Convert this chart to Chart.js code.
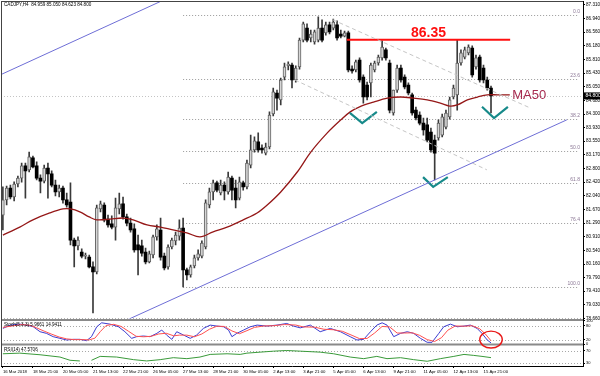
<!DOCTYPE html>
<html><head><meta charset="utf-8">
<script src="https://cdn.jsdelivr.net/npm/chart.js@4.4.1/dist/chart.umd.min.js"></script>
<style>html,body{margin:0;padding:0;background:#fff;overflow:hidden}#wrap{width:600px;height:376px;position:relative}</style>
</head><body><div id="wrap"><canvas id="c" width="600" height="376"></canvas></div>
<script>
const FONT = 'Liberation Sans, Arial, sans-serif';
const symbolTitle = 'CADJPY,H4  84.959 85.050 84.623 84.800';
const stochTitle = 'Stoch(5,3,3) 5.9661 14.9411';
const rsiTitle = 'RSI(14) 47.5706';

const xTickBars = [0,8,16,24,32,40,48,56,64,72,80,88,96,104,112,120,128];
const xTickLabels = ["16 Mar 2018","18 Mar 21:00","20 Mar 05:00","21 Mar 13:00","22 Mar 21:00","26 Mar 05:00","27 Mar 13:00","28 Mar 21:00","30 Mar 05:00","2 Apr 13:00","3 Apr 21:00","5 Apr 05:00","6 Apr 13:00","9 Apr 21:00","11 Apr 05:00","12 Apr 13:00","15 Apr 21:00"];
const priceTicks = [87.310,86.940,86.560,86.180,85.810,85.430,85.050,84.680,84.300,83.930,83.550,83.170,82.800,82.420,82.040,81.670,81.290,80.910,80.540,80.160,79.790,79.410,79.030,78.660];
const stochTicks = [100,80,20,0];
const stochLevels = [80,20];
const rsiTicks = [70,30];
const rsiLevels = [70,30];

const opens = [81.51,81.93,82.26,82.01,82.37,82.53,82.87,82.76,83.09,82.87,
82.53,82.45,82.81,82.65,82.34,82.15,82.26,81.93,81.87,80.82,
80.66,80.49,80.38,80.35,80.08,79.94,81.68,81.79,81.40,81.27,
81.18,81.68,81.82,81.46,81.29,81.13,80.69,80.66,80.49,80.22,
80.41,80.91,81.10,80.38,80.08,80.63,80.80,80.93,81.15,80.00,
79.86,80.11,80.33,80.38,80.63,81.79,82.15,82.40,82.12,82.34,
82.15,82.53,82.26,81.98,82.40,82.29,82.89,83.31,83.53,83.36,
83.22,83.39,84.30,84.88,84.69,85.32,85.63,85.65,85.24,85.60,
86.34,86.67,86.40,86.29,86.34,86.67,86.54,86.76,86.67,86.76,
86.51,86.45,86.54,85.54,85.52,85.79,85.32,85.10,85.16,85.52,
85.71,85.85,86.07,85.71,84.33,84.96,85.57,85.32,85.10,84.83,
84.41,84.27,84.05,84.00,83.80,83.58,83.64,83.72,83.94,84.22,
84.77,84.83,85.71,85.87,85.99,86.12,85.60,85.87,85.57,85.24,
85.02];
const highs = [82.29,82.31,82.34,82.43,82.59,82.95,82.95,83.25,83.14,82.98,
82.62,82.89,82.95,82.73,82.48,82.34,82.31,82.12,82.40,80.88,
80.91,80.58,80.46,80.41,80.22,81.79,81.90,81.85,81.51,81.49,
81.98,82.12,82.01,81.54,81.43,81.27,80.96,80.82,80.60,80.52,
80.96,81.24,81.43,80.46,80.69,80.88,81.04,81.38,81.43,80.05,
80.13,80.41,80.55,80.80,81.93,82.26,82.48,82.45,82.48,82.43,
82.70,82.59,82.48,82.56,82.45,83.03,83.72,83.67,83.78,83.45,
83.50,84.36,85.02,84.96,85.29,85.71,85.74,85.71,85.63,86.40,
86.84,86.79,86.62,86.62,86.98,86.90,86.84,86.84,86.92,86.87,
86.62,86.59,86.59,85.63,85.79,85.85,85.38,85.18,85.71,85.76,
85.93,86.32,86.12,85.79,84.96,85.65,85.65,85.38,85.16,84.88,
84.49,84.36,84.19,84.19,83.91,83.72,84.14,84.30,84.41,84.77,
85.10,86.34,86.07,86.15,86.21,86.18,85.93,85.93,85.65,85.32,
85.07];
const lows = [81.10,81.79,81.96,81.90,82.29,82.42,81.98,82.70,82.81,82.48,
82.12,82.40,81.98,82.29,82.04,82.01,81.84,81.73,80.69,80.08,
80.55,80.33,80.30,80.05,78.81,79.89,81.60,81.32,81.18,81.13,
80.82,81.54,81.40,81.21,81.04,80.49,79.86,80.38,80.16,80.19,
80.33,80.82,80.27,80.00,80.02,80.58,80.69,80.82,79.53,79.72,
79.80,80.05,80.27,80.33,80.58,81.71,81.93,82.15,82.07,81.93,
82.09,81.93,81.71,81.93,82.20,82.23,82.81,83.25,83.25,83.22,
83.17,83.34,84.25,84.41,84.55,85.24,85.52,85.02,85.18,85.54,
86.29,86.29,86.29,86.23,86.29,86.29,86.48,86.51,86.62,86.34,
86.40,86.43,85.46,85.43,85.46,85.18,84.60,84.69,84.77,85.46,
85.65,85.79,85.79,84.33,84.27,84.90,85.18,84.99,84.83,84.27,
84.14,84.00,83.72,83.53,83.25,82.48,83.58,83.67,83.89,84.16,
84.72,84.41,85.65,85.82,85.93,85.32,85.54,85.18,85.16,84.96,
84.33];
const closes = [81.93,82.26,82.01,82.37,82.53,82.87,82.73,83.12,82.84,82.53,
82.45,82.81,82.65,82.34,82.15,82.26,81.93,81.79,80.82,80.66,
80.82,80.38,80.41,80.08,79.94,81.71,81.82,81.38,81.24,81.18,
81.71,81.82,81.46,81.29,81.10,80.55,80.55,80.46,80.22,80.44,
80.91,81.13,80.35,80.05,80.63,80.82,80.96,81.15,80.00,79.86,
80.08,80.33,80.44,80.74,81.85,82.15,82.40,82.20,82.34,82.18,
82.56,82.20,81.93,82.43,82.29,82.95,83.31,83.56,83.31,83.31,
83.39,84.27,84.91,84.74,85.24,85.60,85.68,85.24,85.57,86.34,
86.79,86.34,86.51,86.57,86.67,86.34,86.76,86.57,86.84,86.40,
86.45,86.54,85.52,85.49,85.74,85.24,84.77,84.77,85.65,85.71,
85.87,86.15,85.85,84.41,84.96,85.57,85.24,85.05,84.88,84.33,
84.19,84.05,83.86,83.58,83.31,83.22,84.05,84.22,84.33,84.69,
85.02,85.71,85.99,86.07,86.15,85.38,85.85,85.24,85.24,85.02,
84.80];

const maBars = [0,4.5,8,12.5,16,18,20.5,23,25,28.5,32,34.7,38.4,42,45.3,49,52.5,56,59.7,64,67.7,70.4,74,78.4,82,86.4,90,92.5,95,98.7,102.4,106,109.3,113,116.5,119,121,123.7,126.4,129,131.7,135];
const maValues = [80.96,81.18,81.38,81.57,81.68,81.68,81.60,81.46,81.38,81.40,81.43,81.38,81.24,81.18,81.10,81.02,80.91,81.05,81.18,81.38,81.57,81.79,82.15,82.70,83.25,83.78,84.14,84.36,84.50,84.63,84.74,84.77,84.74,84.69,84.60,84.52,84.55,84.69,84.77,84.83,84.83,84.83];

const stochMainBars = [0,1.9,4.5,6.3,8.1,9.9,11.6,13.4,15.2,17,18.8,20.5,22.3,23.6,25,26.3,28.5,30.8,32.5,34.3,35.6,37.4,39.2,41,42.3,43.6,45,46.3,48.1,49.9,51.6,53.4,55.2,57,58.8,60.1,61,62.3,64.1,65.9,67.7,70.3,73,75.6,77.4,79.2,81.9,84.5,87.2,89.9,92.5,94.3,96.1,97.9,99.6,101,102.3,104.1,105.9,107.7,109.4,111.2,113,114.3,116.1,117.4,119.2,121,122.8,124.5,126.3,127.6,129,130];
const stochMainValues = [67.6,81.7,85.9,81.7,74.6,53.5,46.5,32.4,25.4,18.3,21.1,21.1,15.5,32.4,74.6,91.5,85.9,74.6,53.5,25.4,32.4,35.2,32.4,46.5,60.6,39.4,21.1,53.5,39.4,25.4,39.4,67.6,81.7,77.5,74.6,60.6,32.4,46.5,60.6,74.6,81.7,77.5,81.7,88.7,77.5,70,81.7,53.5,67.6,53.5,32.4,18.3,21.1,53.5,81.7,91.5,81.7,32.4,46.5,53.5,46.5,25.4,8.5,8.5,46.5,74.6,85.9,74.6,77.5,81.7,67.6,46.5,18.3,5.97];
const stochSignalBars = [0,2.5,5,7.2,9,11,13,15,17,19,21,23,24.5,26,27.5,29.5,31.5,33.5,35.5,37.5,39.5,41.5,43.5,45.5,47,49,51,53,55,57,59,61,63,65,67,69.5,72,75,78,80,83,85.5,88,90.5,93,95,97,99,101,103,105,107,109,111,113,115,116.8,118.5,120.5,123,125,127,128.5,130];
const stochSignalValues = [72,78,84,81,70,56,43,31,23,20,20,19,26,55,80,85,76,55,34,32,34,44,47,36,39,39,32,44,64,77,76,57,45,58,72,78,79,84,82,74,73,64,62,55,38,24,25,48,76,74,48,48,49,38,20,12,28,60,78,77,79,66,44,14.94];

const rsiBars = [0,4.5,9.9,15.2,17.9,20.5,22,23.6,25.9,30.3,34.8,38.3,41.9,45.4,49,52.5,55.2,59.7,63.2,65,68.5,72.1,75.6,79.2,84.5,88.1,92.5,96.1,99.6,102.3,105.9,109.4,113,116.5,120.1,122.8,125.4,127.6,130];
const rsiValues = [59.7,61.7,56.6,49.4,39.2,37.1,null,39.2,51.5,49.4,41.2,37.1,41.2,47.4,44.3,49.4,57.7,59.7,57.7,61.7,64.8,67.9,70,67.9,64.8,59.7,49.4,44.3,51.5,44.3,47.4,41.2,36.1,44.3,51.5,57.7,54.6,51.5,47.57];

// annotations (bar index, price)
const fibHigh = 87.03, fibLow = 79.527, fibStartBar = 48;
const fibRatios = [0, 23.6, 38.2, 50, 61.8, 76.4, 100];
const fibNames = ['0.0','23.6','38.2','50.0','61.8','76.4','100.0'];
const upperChannelBars = [-0.5, 43.5], upperChannelPrices = [85.39, 87.48];
const lowerChannelBars = [32.5, 150.2], lowerChannelPrices = [78.59, 84.14];
const grayUpperBars = [87.9, 140.4], grayUpperPrices = [86.90, 84.47];
const grayLowerBars = [77.8, 128.9], grayLowerPrices = [85.24, 82.76];
const resistancePrice = 86.35, resistanceBars = [91.6, 135.1];
const check1Bars = [92.4, 95.7, 99.6], check1Prices = [84.33, 84.05, 84.36];
const check2Bars = [127.6, 130.8, 134.5], check2Prices = [84.50, 84.19, 84.50];
const check3Bars = [111.9, 114.6, 118.5], check3Prices = [82.56, 82.29, 82.56];
const ellipseBar = 130, ellipseValue = 20, ellipseHalfBars = 3, ellipseHalfUnits = 36;

const pts = (xs, ys) => xs.map((b, i) => ({x: b, y: ys[i]}));
const idx = closes.map((_, i) => i);
const isBull = i => closes[i] >= opens[i];

function lineDs(data, color, width, axis, extra) {
  return Object.assign({type: 'line', data, borderColor: color, borderWidth: width, pointRadius: 0,
    fill: false, xAxisID: 'x', yAxisID: axis || 'y', order: 1}, extra || {});
}

const overlay = {
  id: 'overlay',
  beforeDraw(chart) {
    const c = chart.ctx; c.save(); c.fillStyle = '#fff'; c.fillRect(0, 0, chart.width, chart.height); c.restore();
  },
  beforeDatasetsDraw(chart) {
    const {ctx, scales: {x, y, yS, yR}} = chart;
    const hl = (x0, x1, py, col) => { ctx.strokeStyle = col; ctx.beginPath(); ctx.moveTo(x0, py); ctx.lineTo(x1, py); ctx.stroke(); };
    ctx.save();
    ctx.lineWidth = 1; ctx.setLineDash([1, 2]);
    const fx0 = x.getPixelForValue(fibStartBar), fx1 = x.right - 4;
    fibRatios.forEach(r => {
      const p = fibHigh - (fibHigh - fibLow) * r / 100;
      hl(fx0, fx1, Math.round(y.getPixelForValue(p)) + 0.5, '#9a9a9a');
    });
    hl(x.left, x.right, Math.round(y.getPixelForValue(closes[closes.length - 1])) + 0.5, '#c4c4c4');
    hl(x.left, x.right, Math.round(y.bottom) - 0.5, '#b0b0b0');
    stochLevels.forEach(v => hl(x.left, x.right, Math.round(yS.getPixelForValue(v)) + 0.5, '#a8a8a8'));
    rsiLevels.forEach(v => hl(x.left, x.right, Math.round(yR.getPixelForValue(v)) + 0.5, '#a8a8a8'));
    ctx.restore();
  },
  afterDraw(chart) {
    const {ctx, chartArea: a, scales: {x, y, yS, yR}} = chart;
    ctx.save();
    // panel separators
    ctx.fillStyle = '#8a8a8a';
    ctx.fillRect(a.left, yS.top + 0.5, a.right - a.left, 2);
    ctx.fillRect(a.left, yR.top - 1, a.right - a.left, 2);
    // frame
    ctx.strokeStyle = '#444'; ctx.lineWidth = 1;
    ctx.beginPath(); ctx.moveTo(a.left + 0.5, a.top); ctx.lineTo(a.left + 0.5, a.bottom);
    ctx.moveTo(a.left, a.top + 0.5); ctx.lineTo(a.right, a.top + 0.5); ctx.stroke();
    // fib labels
    ctx.font = '5px ' + FONT; ctx.fillStyle = '#8c7896'; ctx.textAlign = 'right'; ctx.textBaseline = 'bottom';
    fibRatios.forEach((r, k) => {
      const p = fibHigh - (fibHigh - fibLow) * r / 100;
      ctx.fillText(fibNames[k], x.right - 3, Math.round(y.getPixelForValue(p)) - 0.5);
    });
    // titles
    ctx.fillStyle = '#000'; ctx.textAlign = 'left'; ctx.textBaseline = 'middle';
    ctx.font = '4.6px ' + FONT;
    ctx.fillText(symbolTitle, a.left + 3, a.top + 4);
    ctx.fillText(stochTitle, a.left + 3, yS.top + 6.5);
    ctx.fillText(rsiTitle, a.left + 3, yR.top + 5);
    // resistance label
    ctx.font = 'bold 14px ' + FONT; ctx.fillStyle = '#ff1010'; ctx.textAlign = 'center'; ctx.textBaseline = 'alphabetic';
    const rx = (x.getPixelForValue(resistanceBars[0]) + x.getPixelForValue(resistanceBars[1])) / 2;
    ctx.fillText(String(resistancePrice), rx, y.getPixelForValue(resistancePrice) - 2.5);
    // MA50 label
    ctx.font = '13px ' + FONT; ctx.fillStyle = '#a62a4f'; ctx.textAlign = 'left'; ctx.textBaseline = 'middle';
    ctx.fillText('MA50', x.getPixelForValue(resistanceBars[1]) + 2, y.getPixelForValue(maValues[maValues.length - 1]) + 0.5);
    // current price box
    const cp = closes[closes.length - 1], cy = y.getPixelForValue(cp);
    ctx.fillStyle = '#000'; ctx.fillRect(a.right + 1, cy - 3.5, 17, 7);
    ctx.fillStyle = '#fff'; ctx.font = '5px ' + FONT; ctx.textAlign = 'left';
    ctx.fillText(cp.toFixed(3), a.right + 2.5, cy);
    // red ellipse on stochastic
    const ex = x.getPixelForValue(ellipseBar), ey = yS.getPixelForValue(ellipseValue);
    const erx = x.getPixelForValue(ellipseBar + ellipseHalfBars) - ex;
    const ery = ey - yS.getPixelForValue(ellipseValue + ellipseHalfUnits);
    ctx.strokeStyle = '#e81818'; ctx.lineWidth = 1.4;
    ctx.beginPath(); ctx.ellipse(ex, ey, erx, ery, 0, 0, Math.PI * 2); ctx.stroke();
    ctx.restore();
  }
};

const yAxisCommon = (extra) => Object.assign({
  type: 'linear', position: 'right', stack: 'panes', beginAtZero: false,
  grid: {drawOnChartArea: false, drawTicks: true, tickLength: 2, color: '#000'},
  border: {display: true, color: '#000'},
  ticks: {autoSkip: false, padding: 1, color: '#111', font: {size: 5, family: FONT}},
  afterFit: ax => { ax.width = 17; ax.paddingTop = 0; ax.paddingBottom = 0; }
}, extra);

new Chart(document.getElementById('c'), {
  type: 'bar',
  data: {datasets: [
    {type: 'bar', data: idx.map(i => ({x: i, y: [lows[i], highs[i]]})), xAxisID: 'x', yAxisID: 'y',
      barThickness: 1, backgroundColor: '#3a3a3a', borderWidth: 0, grouped: false, order: 20},
    {type: 'bar', data: idx.map(i => ({x: i, y: [opens[i], closes[i]]})), xAxisID: 'x', yAxisID: 'y',
      barThickness: 3, minBarLength: 1, grouped: false, order: 19, borderSkipped: false,
      backgroundColor: c => isBull(c.dataIndex) ? '#d6d6d6' : '#000000',
      borderColor: '#606060', borderWidth: c => isBull(c.dataIndex) ? 1 : 0},
    lineDs(pts(maBars, maValues), '#951818', 1.3, 'y', {tension: 0.35, order: 5}),
    lineDs(pts(upperChannelBars, upperChannelPrices), '#6e6ed6', 1),
    lineDs(pts(lowerChannelBars, lowerChannelPrices), '#6e6ed6', 1),
    lineDs(pts(grayUpperBars, grayUpperPrices), '#c6c6c6', 1, 'y', {borderDash: [4, 3]}),
    lineDs(pts(grayLowerBars, grayLowerPrices), '#c6c6c6', 1, 'y', {borderDash: [4, 3]}),
    lineDs(pts(resistanceBars, [resistancePrice, resistancePrice]), '#ff1010', 2),
    lineDs(pts(check1Bars, check1Prices), '#178a8a', 2.2),
    lineDs(pts(check2Bars, check2Prices), '#178a8a', 2.2),
    lineDs(pts(check3Bars, check3Prices), '#178a8a', 2.2),
    lineDs(pts(stochSignalBars, stochSignalValues), '#ff5050', 1, 'yS'),
    lineDs(pts(stochMainBars, stochMainValues), '#3c3cd0', 1, 'yS'),
    lineDs(pts(rsiBars, rsiValues), '#3a9a3a', 1, 'yR')
  ]},
  options: {
    responsive: false, animation: false, devicePixelRatio: 1, events: [],
    layout: {padding: {left: 1, top: 1, right: 0, bottom: 0}},
    plugins: {legend: {display: false}, tooltip: {enabled: false}},
    scales: {
      x: {type: 'linear', position: 'bottom', min: -0.5, max: 154.5, offset: false,
        grid: {display: true, drawOnChartArea: false, drawTicks: true, tickLength: 2, color: '#000', offset: false},
        border: {display: true, color: '#000'},
        ticks: {autoSkip: false, maxRotation: 0, align: 'start', padding: 1, color: '#000', font: {size: 4.3, family: FONT},
          callback: v => { const k = xTickBars.indexOf(v); return k >= 0 ? xTickLabels[k] : ''; }},
        afterBuildTicks: ax => { ax.ticks = xTickBars.map(v => ({value: v})); },
        afterFit: ax => { ax.height = 10; ax.paddingLeft = 0; ax.paddingRight = 0; }
      },
      y: yAxisCommon({stackWeight: 317.5, min: 78.657, max: 87.42,
        ticks: {autoSkip: false, padding: 1, color: '#000', font: {size: 4.6, family: FONT}, callback: v => Number(v).toFixed(3)},
        afterBuildTicks: ax => { ax.ticks = priceTicks.map(v => ({value: v})); }}),
      yS: yAxisCommon({stackWeight: 26, min: -0.85, max: 109.8,
        ticks: {autoSkip: false, padding: 1, color: '#000', font: {size: 4, family: FONT}},
        afterBuildTicks: ax => { ax.ticks = stochTicks.map(v => ({value: v})); }}),
      yR: yAxisCommon({stackWeight: 21.5, min: 21.2, max: 88.9,
        ticks: {autoSkip: false, padding: 1, color: '#000', font: {size: 4, family: FONT}},
        afterBuildTicks: ax => { ax.ticks = rsiTicks.map(v => ({value: v})); }})
    }
  },
  plugins: [overlay]
});
</script>
</body></html>
